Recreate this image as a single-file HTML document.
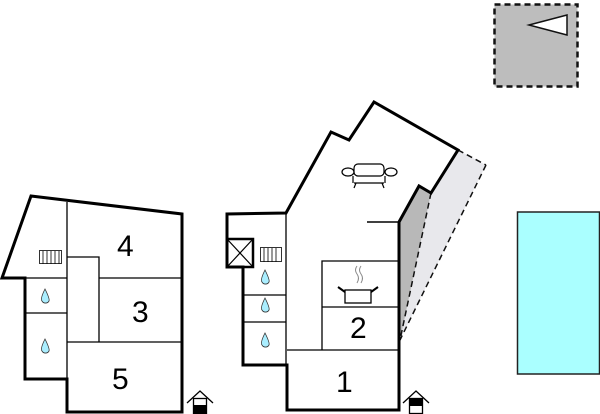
<!DOCTYPE html>
<html><head><meta charset="utf-8"><style>html,body{margin:0;padding:0;background:#fff}svg{display:block}text{font-family:"Liberation Sans",sans-serif;font-size:30px;fill:#000}</style></head>
<body>
<svg width="600" height="414" viewBox="0 0 600 414" xmlns="http://www.w3.org/2000/svg">
<!-- compass -->
<rect x="494.5" y="4.5" width="83" height="82" fill="#bdbdbd" stroke="#111" stroke-width="2.5" stroke-dasharray="6,4"/>
<polygon points="529,25 567,15 567,35" fill="#fff" stroke="#111" stroke-width="1.5"/>
<!-- pool -->
<rect x="517.5" y="212" width="82" height="162" fill="#aaffff" stroke="#222" stroke-width="1.5"/>
<!-- left building -->
<g fill="none" stroke="#000">
<polygon points="31,196 182,214 182,412 67,412 67,379 25,379 25,278 2,278" stroke-width="3" fill="#fff"/>
<g stroke-width="1.3">
<line x1="67" y1="202" x2="67" y2="412"/>
<line x1="25" y1="278" x2="67" y2="278"/>
<line x1="25" y1="313" x2="67" y2="313"/>
<line x1="99" y1="278" x2="182" y2="278"/>
<polyline points="67,257 99,257 99,342"/>
<line x1="67" y1="342" x2="182" y2="342"/>
</g>
<g stroke-width="0.8"><rect x="39.5" y="250.5" width="22" height="13"/><path d="M43,251V264M47,251V264M51,251V264M55,251V264M59,251V264"/></g>
</g>
<path d="M45,289 Q40,299 42,301 A4,4 0 0 0 49,301 Q50,299 45,289Z" fill="#aef" stroke="#333" stroke-width="0.8"/>
<path d="M45,339 Q40,349 42,351 A4,4 0 0 0 49,351 Q50,349 45,339Z" fill="#aef" stroke="#333" stroke-width="0.8"/>
<text x="117" y="256">4</text><text x="132" y="322">3</text><text x="112" y="389">5</text>
<!-- right building shading -->
<polygon points="458,150 486,165 400,340 399,222 419,186 431,193" fill="#e8e8ec"/>
<polygon points="399,222 419,186 431,193 400,340" fill="#b8b8b8"/>
<g fill="none" stroke="#111" stroke-width="1.5" stroke-dasharray="6,4">
<line x1="458" y1="150" x2="486" y2="165"/><line x1="486" y1="165" x2="400" y2="340"/><line x1="431" y1="193" x2="400" y2="340"/>
</g>
<g fill="none" stroke="#000">
<polyline points="399,222 419,186 431,193 458,150 374,102 349,140 331,132 286,213 227,214 227,267 243,267 243,365 287,365 287,410 399,410 399,222" stroke-width="3"/>
<rect x="227" y="239" width="26" height="28" stroke-width="2.5"/>
<path d="M227,239L253,267M253,239L227,267" stroke-width="1.2"/>
<g stroke-width="1.3">
<line x1="286" y1="214" x2="286" y2="365"/>
<line x1="243" y1="295" x2="286" y2="295"/>
<line x1="243" y1="322" x2="286" y2="322"/>
<line x1="287" y1="350" x2="399" y2="350"/>
<polyline points="322,350 322,261 399,261"/>
<line x1="322" y1="307" x2="399" y2="307"/>
<line x1="367" y1="222" x2="399" y2="222" stroke-width="1.6"/>
</g>
<g stroke-width="0.8"><rect x="260.5" y="247.5" width="21" height="14"/><path d="M264,248V262M268,248V262M272,248V262M276,248V262"/></g>
<!-- sofa -->
<g stroke-width="1.2"><rect x="354" y="164" width="30" height="12" rx="4" fill="#fff"/><line x1="354" y1="183" x2="384" y2="183"/><path d="M356,183l-2,5M382,183l2,5"/><ellipse cx="348" cy="172" rx="6" ry="4" fill="#fff"/><ellipse cx="391" cy="172" rx="6" ry="4" fill="#fff"/><line x1="353" y1="176" x2="353" y2="183"/><line x1="385" y1="176" x2="385" y2="183"/></g>
<!-- pot -->
<rect x="345" y="290" width="26" height="13" stroke-width="1.3"/>
<path d="M338,287l7,5M378,287l-7,5" stroke-width="2"/>
<path d="M357,266q-3,4 0,8q3,4 0,9M361,266q-3,4 0,8q3,4 0,9" stroke="#888" stroke-width="1"/>
</g>
<path d="M265,270 Q260,280 262,282 A4,4 0 0 0 269,282 Q270,280 265,270Z" fill="#aef" stroke="#333" stroke-width="0.8"/>
<path d="M265,298 Q260,308 262,310 A4,4 0 0 0 269,310 Q270,308 265,298Z" fill="#aef" stroke="#333" stroke-width="0.8"/>
<path d="M265,333 Q260,343 262,345 A4,4 0 0 0 269,345 Q270,343 265,333Z" fill="#aef" stroke="#333" stroke-width="0.8"/>
<text x="336" y="392">1</text><text x="350" y="338">2</text>
<!-- entrances -->
<g fill="none" stroke="#000" stroke-width="1.3">
<polyline points="187,403 200,391 213,403"/><rect x="193.5" y="398.5" width="13" height="15" fill="#fff"/>
<polyline points="403,403 416,391 429,403"/><rect x="409.5" y="398.5" width="13" height="15" fill="#fff"/>
</g>
<rect x="193" y="405" width="14" height="9" fill="#000"/>
<rect x="409" y="398" width="14" height="8" fill="#000"/>
</svg>
</body></html>
